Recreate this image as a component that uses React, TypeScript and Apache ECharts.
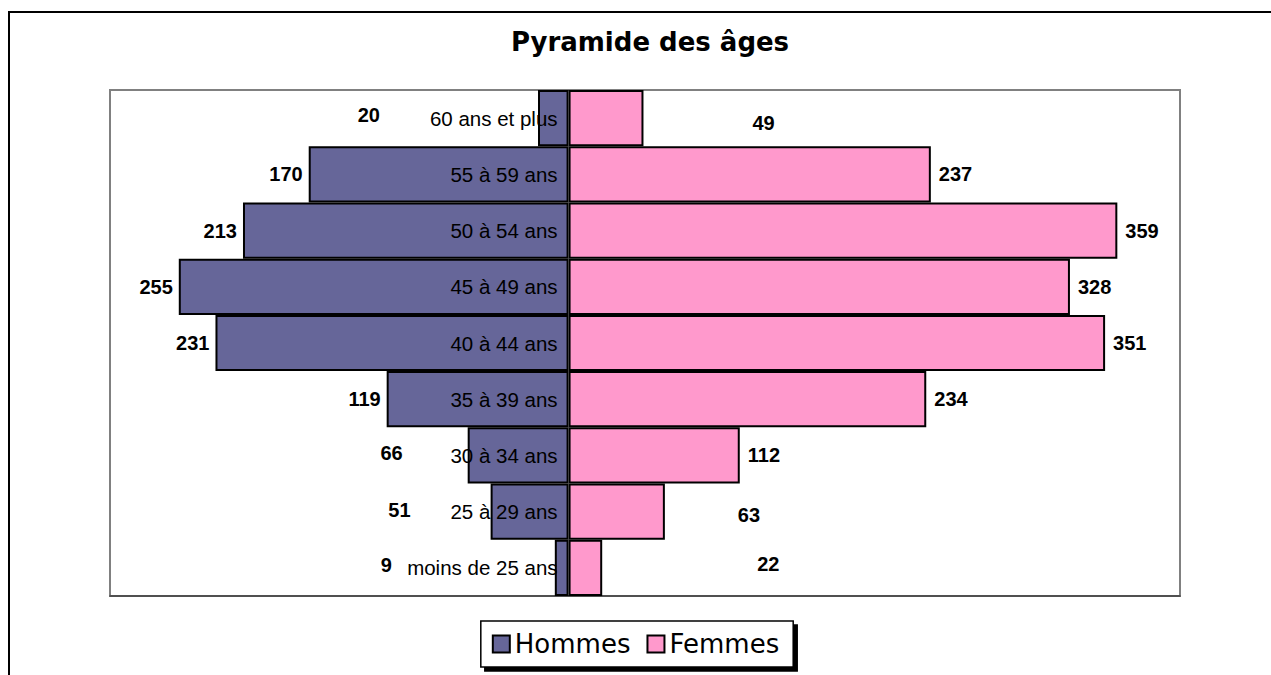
import React, { useEffect, useRef } from "react";
import * as echarts from "echarts";

// Categories from bottom to top
const categories = [
  "moins de 25 ans",
  "25 à 29 ans",
  "30 à 34 ans",
  "35 à 39 ans",
  "40 à 44 ans",
  "45 à 49 ans",
  "50 à 54 ans",
  "55 à 59 ans",
  "60 ans et plus",
];
const hommes = [9, 51, 66, 119, 231, 255, 213, 170, 20];
const femmes = [22, 63, 112, 234, 351, 328, 359, 237, 49];

const titleText = "Pyramide des âges";
const seriesNames = ["Hommes", "Femmes"];

// label displacement (pixels) for some labels, keyed by category index
const hommesLabelOffsets: Record<number, [number, number]> = {
  0: [-157, -3],
  1: [-74, -1.5],
  2: [-59, -2.5],
  8: [-152, -3],
};
const femmesLabelOffsets: Record<number, [number, number]> = {
  0: [147, -3.5],
  1: [65, 3],
  8: [101, 5],
};

const ARIAL = "'Liberation Sans', Arial, sans-serif";
const VERDANA = "'DejaVu Sans', Verdana, sans-serif";

export default function App() {
  const ref = useRef<HTMLDivElement>(null);

  useEffect(() => {
    if (!ref.current) return;
    const chart = echarts.init(ref.current, null, { renderer: "svg" });

    const labelBase = {
      show: true,
      color: "#000",
      fontFamily: ARIAL,
      fontWeight: "bold" as const,
      fontSize: 20,
      formatter: (p: any) => String(Math.abs(p.value)),
    };

    const hData = hommes.map((v, i) => {
      const item: any = { value: -v };
      if (hommesLabelOffsets[i]) item.label = { offset: hommesLabelOffsets[i] };
      return item;
    });
    const fData = femmes.map((v, i) => {
      const item: any = { value: v };
      if (femmesLabelOffsets[i]) item.label = { offset: femmesLabelOffsets[i] };
      return item;
    });

    chart.setOption({
      animation: false,
      backgroundColor: "#fff",
      graphic: [
        {
          type: "rect",
          shape: { x: 9, y: 12, width: 1300, height: 700 },
          style: { fill: "none", stroke: "#000", lineWidth: 2 },
          silent: true,
          z: -10,
        },
        {
          type: "text",
          x: 650,
          y: 42,
          style: {
            text: titleText,
            textAlign: "center",
            textVerticalAlign: "middle",
            fontFamily: VERDANA,
            fontWeight: "bold",
            fontSize: 26,
            fill: "#000",
          },
        },
      ],
      grid: {
        left: 110,
        right: 91,
        top: 90,
        bottom: 79,
        containLabel: false,
        outerBoundsMode: "none",
        show: true,
        borderColor: "#808080",
        borderWidth: 2,
        backgroundColor: "transparent",
      },
      legend: {
        data: seriesNames,
        left: "center",
        top: 621,
        icon: "rect",
        itemWidth: 17,
        itemHeight: 17,
        itemGap: 16,
        padding: [10, 14, 10, 11],
        borderColor: "#000",
        borderWidth: 1.5,
        backgroundColor: "#fff",
        shadowColor: "#000",
        shadowOffsetX: 4,
        shadowOffsetY: 4,
        shadowBlur: 0,
        itemStyle: { borderColor: "#000", borderWidth: 2 },
        textStyle: { fontFamily: VERDANA, fontSize: 26, color: "#000" },
      },
      xAxis: {
        type: "value",
        min: -300,
        max: 400,
        axisLabel: { show: false },
        axisTick: { show: false },
        splitLine: { show: false },
        axisLine: { show: true, lineStyle: { color: "#404040", width: 1.5 } },
      },
      yAxis: {
        type: "category",
        data: categories,
        axisLine: { show: false },
        axisTick: { show: false },
        axisLabel: { show: false },
      },
      series: [
        {
          name: seriesNames[0],
          type: "bar",
          data: hData,
          barCategoryGap: "0%",
          barGap: "-100%",
          itemStyle: { color: "#666699", borderColor: "#000", borderWidth: 2 },
          label: { ...labelBase, position: "left", distance: 6 },
        },
        {
          name: seriesNames[1],
          type: "bar",
          data: fData,
          barCategoryGap: "0%",
          barGap: "-100%",
          itemStyle: { color: "#FF99CC", borderColor: "#000", borderWidth: 2 },
          label: { ...labelBase, position: "right", distance: 8 },
        },
        {
          name: "categoryLabels",
          type: "scatter",
          data: categories.map((c) => [0, c]),
          symbolSize: 0,
          silent: true,
          z: 10,
          itemStyle: { opacity: 1 },
          label: {
            show: true,
            position: "left",
            distance: 11,
            color: "#000",
            opacity: 1,
            fontFamily: ARIAL,
            fontSize: 20.5,
            formatter: (p: any) => p.value[1],
          },
        },
      ],
    });

    return () => chart.dispose();
  }, []);

  return (
    <div
      ref={ref}
      style={{ position: "fixed", left: 0, top: 0, width: 1271, height: 675 }}
    />
  );
}
